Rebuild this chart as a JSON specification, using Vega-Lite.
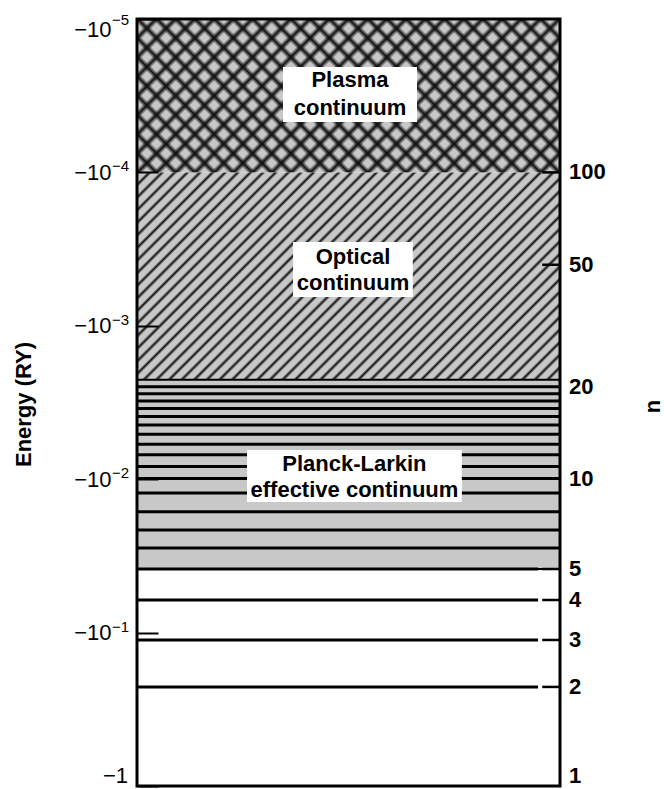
{
"$schema":"https://vega.github.io/schema/vega-lite/v6.json",
"width":423,"height":767,"autosize":"none",
"padding":{"left":137,"top":19,"right":104,"bottom":3},
"background":"white",
"config":{"view":{"stroke":null},"font":"Liberation Sans"},
"datasets":{
"regions":[
{"region":"Plasma continuum","top":-0.00001,"bottom":-0.0001},
{"region":"Optical continuum","top":-0.0001,"bottom":-0.00225},
{"region":"Planck-Larkin effective continuum","top":-0.00225,"bottom":-0.0385}
],
"levels":[
{"n":1,"E":-1},{"n":2,"E":-0.226},{"n":3,"E":-0.1117},{"n":4,"E":-0.0613},{"n":5,"E":-0.0385},
{"n":6,"E":-0.0281},{"n":7,"E":-0.0214},{"n":8,"E":-0.0163},{"n":9,"E":-0.0123},{"n":10,"E":-0.0099},
{"n":11,"E":-0.00826},{"n":12,"E":-0.00694},{"n":13,"E":-0.00592},{"n":14,"E":-0.0051},{"n":15,"E":-0.00444},
{"n":16,"E":-0.0039},{"n":17,"E":-0.00346},{"n":18,"E":-0.00309},{"n":19,"E":-0.00277},{"n":20,"E":-0.0025},
{"n":50,"E":-0.0004},{"n":100,"E":-0.0001}
],
"exponents":[
{"E":-0.00001,"exp":"−5"},{"E":-0.0001,"exp":"−4"},{"E":-0.001,"exp":"−3"},{"E":-0.01,"exp":"−2"},{"E":-0.1,"exp":"−1"}
],
"boxes":[
{"region":"Plasma continuum","x0":0.345,"x1":0.662,"top":-0.00002056,"bottom":-0.0000469},
{"region":"Optical continuum","x0":0.369,"x1":0.652,"top":-0.000284,"bottom":-0.000649},
{"region":"Planck-Larkin effective continuum","x0":0.26,"x1":0.768,"top":-0.00645,"bottom":-0.01408}
],
"captions":[
{"text":"Plasma","x":0.5035,"E":-0.0000277},
{"text":"continuum","x":0.5035,"E":-0.0000422},
{"text":"Optical","x":0.5106,"E":-0.000395},
{"text":"continuum","x":0.5106,"E":-0.000584},
{"text":"Planck-Larkin","x":0.514,"E":-0.00885},
{"text":"effective continuum","x":0.514,"E":-0.01306}
]
},
"resolve":{"axis":{"y":"independent"}},
"layer":[
{"data":{"name":"regions"},"transform":[{"filter":"datum.region === 'Plasma continuum'"}],
"mark":{"type":"rect","strokeWidth":0,"fill":{"gradient":"linear","x1":0,"y1":0,"x2":1.2042,"y2":0.4356,"stops":[
{"offset":0,"color":"#111"},{"offset":0.009,"color":"#c8c8c8"},
{"offset":0.0243,"color":"#c8c8c8"},{"offset":0.0333,"color":"#111"},{"offset":0.0423,"color":"#c8c8c8"},
{"offset":0.0577,"color":"#c8c8c8"},{"offset":0.0667,"color":"#111"},{"offset":0.0757,"color":"#c8c8c8"},
{"offset":0.091,"color":"#c8c8c8"},{"offset":0.1,"color":"#111"},{"offset":0.109,"color":"#c8c8c8"},
{"offset":0.1243,"color":"#c8c8c8"},{"offset":0.1333,"color":"#111"},{"offset":0.1423,"color":"#c8c8c8"},
{"offset":0.1577,"color":"#c8c8c8"},{"offset":0.1667,"color":"#111"},{"offset":0.1757,"color":"#c8c8c8"},
{"offset":0.191,"color":"#c8c8c8"},{"offset":0.2,"color":"#111"},{"offset":0.209,"color":"#c8c8c8"},
{"offset":0.2243,"color":"#c8c8c8"},{"offset":0.2333,"color":"#111"},{"offset":0.2423,"color":"#c8c8c8"},
{"offset":0.2577,"color":"#c8c8c8"},{"offset":0.2667,"color":"#111"},{"offset":0.2757,"color":"#c8c8c8"},
{"offset":0.291,"color":"#c8c8c8"},{"offset":0.3,"color":"#111"},{"offset":0.309,"color":"#c8c8c8"},
{"offset":0.3243,"color":"#c8c8c8"},{"offset":0.3333,"color":"#111"},{"offset":0.3423,"color":"#c8c8c8"},
{"offset":0.3577,"color":"#c8c8c8"},{"offset":0.3667,"color":"#111"},{"offset":0.3757,"color":"#c8c8c8"},
{"offset":0.391,"color":"#c8c8c8"},{"offset":0.4,"color":"#111"},{"offset":0.409,"color":"#c8c8c8"},
{"offset":0.4243,"color":"#c8c8c8"},{"offset":0.4333,"color":"#111"},{"offset":0.4423,"color":"#c8c8c8"},
{"offset":0.4577,"color":"#c8c8c8"},{"offset":0.4667,"color":"#111"},{"offset":0.4757,"color":"#c8c8c8"},
{"offset":0.491,"color":"#c8c8c8"},{"offset":0.5,"color":"#111"},{"offset":0.509,"color":"#c8c8c8"},
{"offset":0.5243,"color":"#c8c8c8"},{"offset":0.5333,"color":"#111"},{"offset":0.5423,"color":"#c8c8c8"},
{"offset":0.5577,"color":"#c8c8c8"},{"offset":0.5667,"color":"#111"},{"offset":0.5757,"color":"#c8c8c8"},
{"offset":0.591,"color":"#c8c8c8"},{"offset":0.6,"color":"#111"},{"offset":0.609,"color":"#c8c8c8"},
{"offset":0.6243,"color":"#c8c8c8"},{"offset":0.6333,"color":"#111"},{"offset":0.6423,"color":"#c8c8c8"},
{"offset":0.6577,"color":"#c8c8c8"},{"offset":0.6667,"color":"#111"},{"offset":0.6757,"color":"#c8c8c8"},
{"offset":0.691,"color":"#c8c8c8"},{"offset":0.7,"color":"#111"},{"offset":0.709,"color":"#c8c8c8"},
{"offset":0.7243,"color":"#c8c8c8"},{"offset":0.7333,"color":"#111"},{"offset":0.7423,"color":"#c8c8c8"},
{"offset":0.7577,"color":"#c8c8c8"},{"offset":0.7667,"color":"#111"},{"offset":0.7757,"color":"#c8c8c8"},
{"offset":0.791,"color":"#c8c8c8"},{"offset":0.8,"color":"#111"},{"offset":0.809,"color":"#c8c8c8"},
{"offset":0.8243,"color":"#c8c8c8"},{"offset":0.8333,"color":"#111"},{"offset":0.8423,"color":"#c8c8c8"},
{"offset":0.8577,"color":"#c8c8c8"},{"offset":0.8667,"color":"#111"},{"offset":0.8757,"color":"#c8c8c8"},
{"offset":0.891,"color":"#c8c8c8"},{"offset":0.9,"color":"#111"},{"offset":0.909,"color":"#c8c8c8"},
{"offset":0.9243,"color":"#c8c8c8"},{"offset":0.9333,"color":"#111"},{"offset":0.9423,"color":"#c8c8c8"},
{"offset":0.9577,"color":"#c8c8c8"},{"offset":0.9667,"color":"#111"},{"offset":0.9757,"color":"#c8c8c8"},
{"offset":0.991,"color":"#c8c8c8"},{"offset":1,"color":"#111"}
]}},
"encoding":{
"x":{"datum":0,"type":"quantitative","scale":{"domain":[0,1],"nice":false,"zero":false},"axis":null},
"x2":{"datum":1},
"y":{"field":"top","type":"quantitative","scale":{"type":"log","domain":[-1,-0.00001],"nice":false,"zero":false},
"axis":{"orient":"left","values":[-0.00001,-0.0001,-0.001,-0.01,-0.1,-1],"zindex":1,
"labelExpr":"datum.value <= -0.5 ? '' : '−10'",
"domain":false,"grid":false,"ticks":true,"tickSize":-21,"tickWidth":2,"tickColor":"black",
"labelFont":"Liberation Sans","labelFontSize":22,"labelColor":"black","labelPadding":47,"labelFlush":true,"labelOverlap":false,
"title":"Energy (RY)","titleFont":"Liberation Sans","titleFontSize":22,"titleFontWeight":"bold","titleColor":"black",
"titleAngle":270,"titleX":-114,"titleY":385,"titleAlign":"center","titleBaseline":"middle"}},
"y2":{"field":"bottom"}}},
{"data":{"name":"regions"},"transform":[{"filter":"datum.region === 'Plasma continuum'"}],
"mark":{"type":"rect","strokeWidth":0,"fill":{"gradient":"linear","x1":0,"y1":1,"x2":1.2042,"y2":0.5644,"stops":[
{"offset":0,"color":"#111"},{"offset":0.009,"color":"rgba(17,17,17,0)"},
{"offset":0.0243,"color":"rgba(17,17,17,0)"},{"offset":0.0333,"color":"#111"},{"offset":0.0423,"color":"rgba(17,17,17,0)"},
{"offset":0.0577,"color":"rgba(17,17,17,0)"},{"offset":0.0667,"color":"#111"},{"offset":0.0757,"color":"rgba(17,17,17,0)"},
{"offset":0.091,"color":"rgba(17,17,17,0)"},{"offset":0.1,"color":"#111"},{"offset":0.109,"color":"rgba(17,17,17,0)"},
{"offset":0.1243,"color":"rgba(17,17,17,0)"},{"offset":0.1333,"color":"#111"},{"offset":0.1423,"color":"rgba(17,17,17,0)"},
{"offset":0.1577,"color":"rgba(17,17,17,0)"},{"offset":0.1667,"color":"#111"},{"offset":0.1757,"color":"rgba(17,17,17,0)"},
{"offset":0.191,"color":"rgba(17,17,17,0)"},{"offset":0.2,"color":"#111"},{"offset":0.209,"color":"rgba(17,17,17,0)"},
{"offset":0.2243,"color":"rgba(17,17,17,0)"},{"offset":0.2333,"color":"#111"},{"offset":0.2423,"color":"rgba(17,17,17,0)"},
{"offset":0.2577,"color":"rgba(17,17,17,0)"},{"offset":0.2667,"color":"#111"},{"offset":0.2757,"color":"rgba(17,17,17,0)"},
{"offset":0.291,"color":"rgba(17,17,17,0)"},{"offset":0.3,"color":"#111"},{"offset":0.309,"color":"rgba(17,17,17,0)"},
{"offset":0.3243,"color":"rgba(17,17,17,0)"},{"offset":0.3333,"color":"#111"},{"offset":0.3423,"color":"rgba(17,17,17,0)"},
{"offset":0.3577,"color":"rgba(17,17,17,0)"},{"offset":0.3667,"color":"#111"},{"offset":0.3757,"color":"rgba(17,17,17,0)"},
{"offset":0.391,"color":"rgba(17,17,17,0)"},{"offset":0.4,"color":"#111"},{"offset":0.409,"color":"rgba(17,17,17,0)"},
{"offset":0.4243,"color":"rgba(17,17,17,0)"},{"offset":0.4333,"color":"#111"},{"offset":0.4423,"color":"rgba(17,17,17,0)"},
{"offset":0.4577,"color":"rgba(17,17,17,0)"},{"offset":0.4667,"color":"#111"},{"offset":0.4757,"color":"rgba(17,17,17,0)"},
{"offset":0.491,"color":"rgba(17,17,17,0)"},{"offset":0.5,"color":"#111"},{"offset":0.509,"color":"rgba(17,17,17,0)"},
{"offset":0.5243,"color":"rgba(17,17,17,0)"},{"offset":0.5333,"color":"#111"},{"offset":0.5423,"color":"rgba(17,17,17,0)"},
{"offset":0.5577,"color":"rgba(17,17,17,0)"},{"offset":0.5667,"color":"#111"},{"offset":0.5757,"color":"rgba(17,17,17,0)"},
{"offset":0.591,"color":"rgba(17,17,17,0)"},{"offset":0.6,"color":"#111"},{"offset":0.609,"color":"rgba(17,17,17,0)"},
{"offset":0.6243,"color":"rgba(17,17,17,0)"},{"offset":0.6333,"color":"#111"},{"offset":0.6423,"color":"rgba(17,17,17,0)"},
{"offset":0.6577,"color":"rgba(17,17,17,0)"},{"offset":0.6667,"color":"#111"},{"offset":0.6757,"color":"rgba(17,17,17,0)"},
{"offset":0.691,"color":"rgba(17,17,17,0)"},{"offset":0.7,"color":"#111"},{"offset":0.709,"color":"rgba(17,17,17,0)"},
{"offset":0.7243,"color":"rgba(17,17,17,0)"},{"offset":0.7333,"color":"#111"},{"offset":0.7423,"color":"rgba(17,17,17,0)"},
{"offset":0.7577,"color":"rgba(17,17,17,0)"},{"offset":0.7667,"color":"#111"},{"offset":0.7757,"color":"rgba(17,17,17,0)"},
{"offset":0.791,"color":"rgba(17,17,17,0)"},{"offset":0.8,"color":"#111"},{"offset":0.809,"color":"rgba(17,17,17,0)"},
{"offset":0.8243,"color":"rgba(17,17,17,0)"},{"offset":0.8333,"color":"#111"},{"offset":0.8423,"color":"rgba(17,17,17,0)"},
{"offset":0.8577,"color":"rgba(17,17,17,0)"},{"offset":0.8667,"color":"#111"},{"offset":0.8757,"color":"rgba(17,17,17,0)"},
{"offset":0.891,"color":"rgba(17,17,17,0)"},{"offset":0.9,"color":"#111"},{"offset":0.909,"color":"rgba(17,17,17,0)"},
{"offset":0.9243,"color":"rgba(17,17,17,0)"},{"offset":0.9333,"color":"#111"},{"offset":0.9423,"color":"rgba(17,17,17,0)"},
{"offset":0.9577,"color":"rgba(17,17,17,0)"},{"offset":0.9667,"color":"#111"},{"offset":0.9757,"color":"rgba(17,17,17,0)"},
{"offset":0.991,"color":"rgba(17,17,17,0)"},{"offset":1,"color":"#111"}
]}},
"encoding":{"x":{"datum":0,"type":"quantitative"},"x2":{"datum":1},
"y":{"field":"top","type":"quantitative","axis":null},"y2":{"field":"bottom"}}},
{"data":{"name":"regions"},"transform":[{"filter":"datum.region === 'Optical continuum'"}],
"mark":{"type":"rect","strokeWidth":0,"fill":{"gradient":"linear","x1":0,"y1":0,"x2":1.2014,"y2":0.5897,"stops":[
{"offset":0,"color":"#111"},{"offset":0.005,"color":"#c8c8c8"},
{"offset":0.015,"color":"#c8c8c8"},{"offset":0.02,"color":"#111"},{"offset":0.025,"color":"#c8c8c8"},
{"offset":0.035,"color":"#c8c8c8"},{"offset":0.04,"color":"#111"},{"offset":0.045,"color":"#c8c8c8"},
{"offset":0.055,"color":"#c8c8c8"},{"offset":0.06,"color":"#111"},{"offset":0.065,"color":"#c8c8c8"},
{"offset":0.075,"color":"#c8c8c8"},{"offset":0.08,"color":"#111"},{"offset":0.085,"color":"#c8c8c8"},
{"offset":0.095,"color":"#c8c8c8"},{"offset":0.1,"color":"#111"},{"offset":0.105,"color":"#c8c8c8"},
{"offset":0.115,"color":"#c8c8c8"},{"offset":0.12,"color":"#111"},{"offset":0.125,"color":"#c8c8c8"},
{"offset":0.135,"color":"#c8c8c8"},{"offset":0.14,"color":"#111"},{"offset":0.145,"color":"#c8c8c8"},
{"offset":0.155,"color":"#c8c8c8"},{"offset":0.16,"color":"#111"},{"offset":0.165,"color":"#c8c8c8"},
{"offset":0.175,"color":"#c8c8c8"},{"offset":0.18,"color":"#111"},{"offset":0.185,"color":"#c8c8c8"},
{"offset":0.195,"color":"#c8c8c8"},{"offset":0.2,"color":"#111"},{"offset":0.205,"color":"#c8c8c8"},
{"offset":0.215,"color":"#c8c8c8"},{"offset":0.22,"color":"#111"},{"offset":0.225,"color":"#c8c8c8"},
{"offset":0.235,"color":"#c8c8c8"},{"offset":0.24,"color":"#111"},{"offset":0.245,"color":"#c8c8c8"},
{"offset":0.255,"color":"#c8c8c8"},{"offset":0.26,"color":"#111"},{"offset":0.265,"color":"#c8c8c8"},
{"offset":0.275,"color":"#c8c8c8"},{"offset":0.28,"color":"#111"},{"offset":0.285,"color":"#c8c8c8"},
{"offset":0.295,"color":"#c8c8c8"},{"offset":0.3,"color":"#111"},{"offset":0.305,"color":"#c8c8c8"},
{"offset":0.315,"color":"#c8c8c8"},{"offset":0.32,"color":"#111"},{"offset":0.325,"color":"#c8c8c8"},
{"offset":0.335,"color":"#c8c8c8"},{"offset":0.34,"color":"#111"},{"offset":0.345,"color":"#c8c8c8"},
{"offset":0.355,"color":"#c8c8c8"},{"offset":0.36,"color":"#111"},{"offset":0.365,"color":"#c8c8c8"},
{"offset":0.375,"color":"#c8c8c8"},{"offset":0.38,"color":"#111"},{"offset":0.385,"color":"#c8c8c8"},
{"offset":0.395,"color":"#c8c8c8"},{"offset":0.4,"color":"#111"},{"offset":0.405,"color":"#c8c8c8"},
{"offset":0.415,"color":"#c8c8c8"},{"offset":0.42,"color":"#111"},{"offset":0.425,"color":"#c8c8c8"},
{"offset":0.435,"color":"#c8c8c8"},{"offset":0.44,"color":"#111"},{"offset":0.445,"color":"#c8c8c8"},
{"offset":0.455,"color":"#c8c8c8"},{"offset":0.46,"color":"#111"},{"offset":0.465,"color":"#c8c8c8"},
{"offset":0.475,"color":"#c8c8c8"},{"offset":0.48,"color":"#111"},{"offset":0.485,"color":"#c8c8c8"},
{"offset":0.495,"color":"#c8c8c8"},{"offset":0.5,"color":"#111"},{"offset":0.505,"color":"#c8c8c8"},
{"offset":0.515,"color":"#c8c8c8"},{"offset":0.52,"color":"#111"},{"offset":0.525,"color":"#c8c8c8"},
{"offset":0.535,"color":"#c8c8c8"},{"offset":0.54,"color":"#111"},{"offset":0.545,"color":"#c8c8c8"},
{"offset":0.555,"color":"#c8c8c8"},{"offset":0.56,"color":"#111"},{"offset":0.565,"color":"#c8c8c8"},
{"offset":0.575,"color":"#c8c8c8"},{"offset":0.58,"color":"#111"},{"offset":0.585,"color":"#c8c8c8"},
{"offset":0.595,"color":"#c8c8c8"},{"offset":0.6,"color":"#111"},{"offset":0.605,"color":"#c8c8c8"},
{"offset":0.615,"color":"#c8c8c8"},{"offset":0.62,"color":"#111"},{"offset":0.625,"color":"#c8c8c8"},
{"offset":0.635,"color":"#c8c8c8"},{"offset":0.64,"color":"#111"},{"offset":0.645,"color":"#c8c8c8"},
{"offset":0.655,"color":"#c8c8c8"},{"offset":0.66,"color":"#111"},{"offset":0.665,"color":"#c8c8c8"},
{"offset":0.675,"color":"#c8c8c8"},{"offset":0.68,"color":"#111"},{"offset":0.685,"color":"#c8c8c8"},
{"offset":0.695,"color":"#c8c8c8"},{"offset":0.7,"color":"#111"},{"offset":0.705,"color":"#c8c8c8"},
{"offset":0.715,"color":"#c8c8c8"},{"offset":0.72,"color":"#111"},{"offset":0.725,"color":"#c8c8c8"},
{"offset":0.735,"color":"#c8c8c8"},{"offset":0.74,"color":"#111"},{"offset":0.745,"color":"#c8c8c8"},
{"offset":0.755,"color":"#c8c8c8"},{"offset":0.76,"color":"#111"},{"offset":0.765,"color":"#c8c8c8"},
{"offset":0.775,"color":"#c8c8c8"},{"offset":0.78,"color":"#111"},{"offset":0.785,"color":"#c8c8c8"},
{"offset":0.795,"color":"#c8c8c8"},{"offset":0.8,"color":"#111"},{"offset":0.805,"color":"#c8c8c8"},
{"offset":0.815,"color":"#c8c8c8"},{"offset":0.82,"color":"#111"},{"offset":0.825,"color":"#c8c8c8"},
{"offset":0.835,"color":"#c8c8c8"},{"offset":0.84,"color":"#111"},{"offset":0.845,"color":"#c8c8c8"},
{"offset":0.855,"color":"#c8c8c8"},{"offset":0.86,"color":"#111"},{"offset":0.865,"color":"#c8c8c8"},
{"offset":0.875,"color":"#c8c8c8"},{"offset":0.88,"color":"#111"},{"offset":0.885,"color":"#c8c8c8"},
{"offset":0.895,"color":"#c8c8c8"},{"offset":0.9,"color":"#111"},{"offset":0.905,"color":"#c8c8c8"},
{"offset":0.915,"color":"#c8c8c8"},{"offset":0.92,"color":"#111"},{"offset":0.925,"color":"#c8c8c8"},
{"offset":0.935,"color":"#c8c8c8"},{"offset":0.94,"color":"#111"},{"offset":0.945,"color":"#c8c8c8"},
{"offset":0.955,"color":"#c8c8c8"},{"offset":0.96,"color":"#111"},{"offset":0.965,"color":"#c8c8c8"},
{"offset":0.975,"color":"#c8c8c8"},{"offset":0.98,"color":"#111"},{"offset":0.985,"color":"#c8c8c8"},
{"offset":0.995,"color":"#c8c8c8"},{"offset":1,"color":"#111"}
]}},
"encoding":{"x":{"datum":0,"type":"quantitative"},"x2":{"datum":1},
"y":{"field":"top","type":"quantitative","axis":null},"y2":{"field":"bottom"}}},
{"data":{"name":"regions"},"transform":[{"filter":"datum.region === 'Planck-Larkin effective continuum'"}],
"mark":{"type":"rect","fill":"#c8c8c8","stroke":"black","strokeWidth":2},
"encoding":{"x":{"datum":0,"type":"quantitative"},"x2":{"datum":1},
"y":{"field":"top","type":"quantitative","axis":null},"y2":{"field":"bottom"}}},
{"data":{"name":"levels"},"transform":[{"filter":"datum.n >= 6 && datum.n <= 20"}],
"mark":{"type":"rule","color":"black","strokeWidth":3},
"encoding":{"x":{"datum":0,"type":"quantitative"},"x2":{"datum":1},
"y":{"field":"E","type":"quantitative","axis":null}}},
{"data":{"name":"levels"},"transform":[{"filter":"datum.n >= 2 && datum.n <= 5"}],
"mark":{"type":"rule","color":"black","strokeWidth":3},
"encoding":{"x":{"datum":0,"type":"quantitative"},"x2":{"datum":0.948},
"y":{"field":"E","type":"quantitative","axis":null}}},
{"data":{"name":"levels"},"transform":[{"filter":"indexof([2,3,4,5,50,100], datum.n) >= 0"}],
"mark":{"type":"rule","color":"black","strokeWidth":2.5},
"encoding":{"x":{"datum":0.958,"type":"quantitative"},"x2":{"datum":1},
"y":{"field":"E","type":"quantitative","axis":null}}},
{"data":{"name":"boxes"},
"mark":{"type":"rect","fill":"white","strokeWidth":0},
"encoding":{"x":{"field":"x0","type":"quantitative"},"x2":{"field":"x1"},
"y":{"field":"top","type":"quantitative","axis":null},"y2":{"field":"bottom"}}},
{"data":{"name":"captions"},
"mark":{"type":"text","font":"Liberation Sans","fontSize":22,"fontWeight":"bold","color":"black","align":"center","baseline":"alphabetic"},
"encoding":{"x":{"field":"x","type":"quantitative"},
"y":{"field":"E","type":"quantitative","axis":null},"text":{"field":"text","type":"nominal"}}},
{"data":{"values":[{}]},
"mark":{"type":"rect","filled":false,"stroke":"black","strokeWidth":3},
"encoding":{"x":{"datum":0,"type":"quantitative"},"x2":{"datum":1},
"y":{"datum":-1,"type":"quantitative","axis":null},"y2":{"datum":-0.00001}}},
{"data":{"name":"exponents"},"transform":[{"filter":"datum.E < -0.00005"}],
"mark":{"type":"text","font":"Liberation Sans","fontSize":15,"color":"black","align":"left","baseline":"middle","dx":-25,"dy":-6},
"encoding":{"x":{"datum":0,"type":"quantitative"},
"y":{"field":"E","type":"quantitative","axis":null},"text":{"field":"exp","type":"nominal"}}},
{"data":{"name":"exponents"},"transform":[{"filter":"datum.E >= -0.00005"}],
"mark":{"type":"text","font":"Liberation Sans","fontSize":15,"color":"black","align":"left","baseline":"middle","dx":-25,"dy":1},
"encoding":{"x":{"datum":0,"type":"quantitative"},
"y":{"field":"E","type":"quantitative","axis":null},"text":{"field":"exp","type":"nominal"}}},
{"data":{"values":[{"E":-1,"label":"−1"}]},
"mark":{"type":"text","font":"Liberation Sans","fontSize":22,"color":"black","align":"right","baseline":"alphabetic","dx":-9,"dy":-3},
"encoding":{"x":{"datum":0,"type":"quantitative"},
"y":{"field":"E","type":"quantitative","axis":null},"text":{"field":"label","type":"nominal"}}},
{"data":{"name":"levels"},"transform":[{"filter":"indexof([1], datum.n) >= 0"}],
"mark":{"type":"text","font":"Liberation Sans","fontSize":22,"fontWeight":"bold","color":"black","align":"left","baseline":"alphabetic","dx":9,"dy":-3},
"encoding":{"x":{"datum":1,"type":"quantitative"},
"y":{"field":"E","type":"quantitative","axis":null},"text":{"field":"n","type":"nominal"}}},
{"data":{"name":"levels"},"transform":[{"filter":"indexof([2,3,4,5,10,20,50,100], datum.n) >= 0"}],
"mark":{"type":"text","font":"Liberation Sans","fontSize":22,"fontWeight":"bold","color":"black","align":"left","baseline":"middle","dx":9},
"encoding":{"x":{"datum":1,"type":"quantitative"},
"y":{"field":"E","type":"quantitative",
"axis":{"orient":"right","labels":false,"ticks":false,"domain":false,"grid":false,"title":"n",
"titleFont":"Liberation Sans","titleFontSize":22,"titleFontWeight":"bold","titleColor":"black",
"titleAngle":270,"titleX":92,"titleY":387,"titleAlign":"center","titleBaseline":"middle"}},
"text":{"field":"n","type":"nominal"}}}
]
}
